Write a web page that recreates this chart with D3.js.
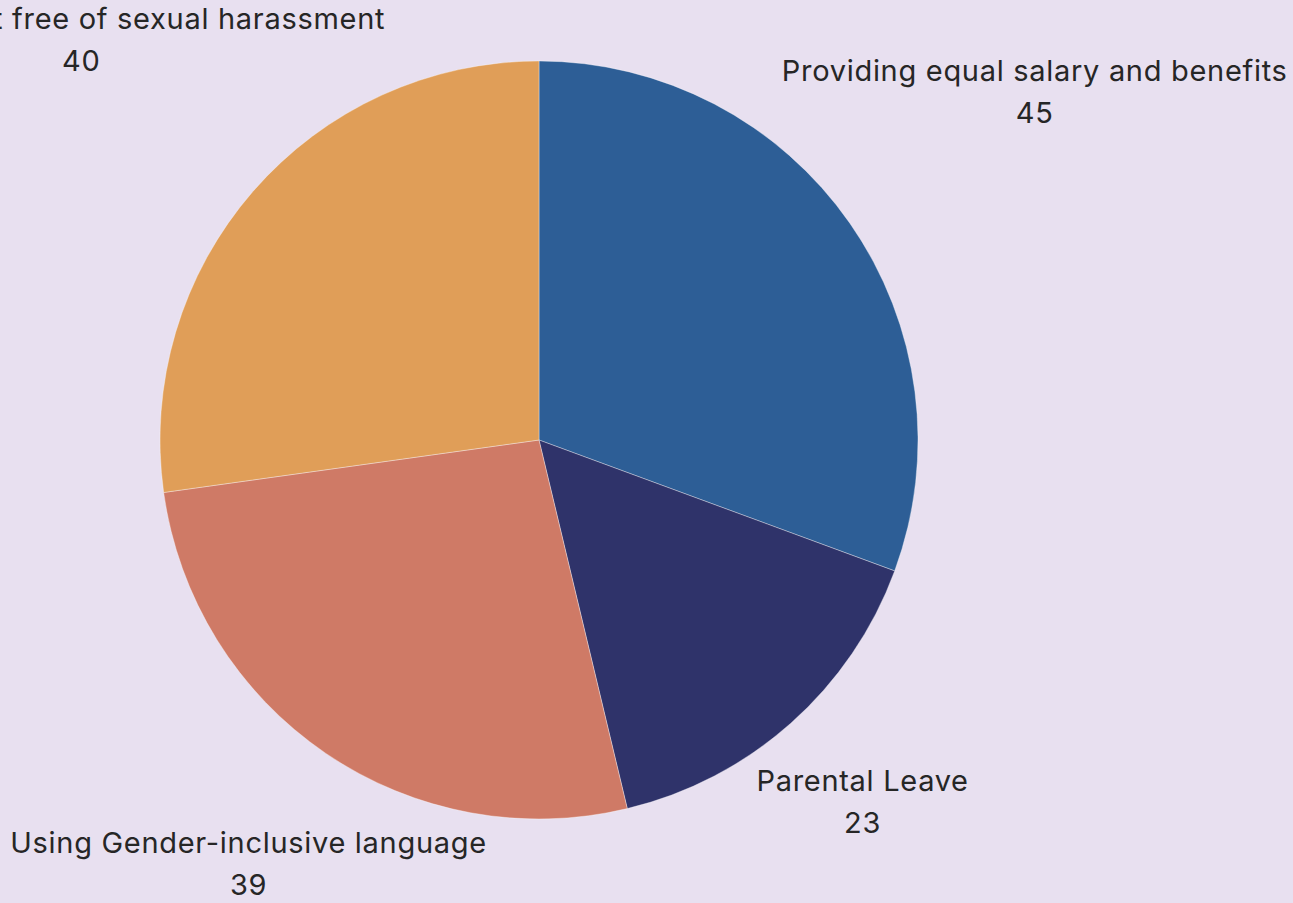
<!DOCTYPE html>
<html>
<head>
<meta charset="utf-8">
<script src="https://cdn.jsdelivr.net/npm/d3@7"></script>
<style>
  html, body { margin: 0; padding: 0; background: #e8e0f0; overflow: hidden; }
  svg { display: block; }
</style>
</head>
<body>
<svg id="chart" width="1293" height="903"></svg>
<script>
// Survey answers, clockwise from 12 o'clock
const categories = [
  "Providing equal salary and benefits",
  "Parental Leave",
  "Using Gender-inclusive language",
  "An environment free of sexual harassment"
];
const values = [45, 23, 39, 40];
const colors = ["#2d5e96", "#2f336a", "#cf7a66", "#e09e58"];

const width = 1293, height = 903;
const cx = 539, cy = 440, radius = 379;
const labelGap = 15;      // distance between pie edge and nearest label corner
const fontSize = 29;
const letterSpacing = 0.7;
const lineGap = 42;
const fontFamily = "Inter, 'Open Sans', sans-serif";

const svg = d3.select("#chart");
const g = svg.append("g").attr("transform", `translate(${cx},${cy})`);

const data = categories.map((c, i) => ({ name: c, value: values[i], color: colors[i] }));

const pie = d3.pie().value(d => d.value).sort(null);
const arc = d3.arc().innerRadius(0).outerRadius(radius);
const arcs = pie(data);

g.selectAll("path.slice")
  .data(arcs)
  .join("path")
  .attr("class", "slice")
  .attr("d", arc)
  .attr("fill", d => d.data.color)
  .attr("stroke", "rgba(255,255,255,0.35)")
  .attr("stroke-width", 1);

// Labels: two centred lines, pushed out along the slice's mid angle until
// the label box's nearest corner clears the pie by labelGap.
const labels = g.selectAll("g.label")
  .data(arcs)
  .join("g")
  .attr("class", "label");

labels.append("text")
  .attr("class", "name")
  .attr("text-anchor", "middle")
  .attr("font-family", fontFamily)
  .attr("font-size", fontSize)
  .attr("letter-spacing", letterSpacing)
  .attr("fill", "#262626")
  .attr("y", -lineGap / 2 + 8)
  .text(d => d.data.name);

labels.append("text")
  .attr("class", "value")
  .attr("text-anchor", "middle")
  .attr("font-family", fontFamily)
  .attr("font-size", fontSize)
  .attr("letter-spacing", letterSpacing)
  .attr("fill", "#262626")
  .attr("y", lineGap / 2 + 8)
  .text(d => d.data.value);

labels.each(function(d) {
  const node = d3.select(this);
  const w = Math.max(
    node.select("text.name").node().getComputedTextLength(),
    node.select("text.value").node().getComputedTextLength()
  );
  const h = lineGap + fontSize;
  const a = (d.startAngle + d.endAngle) / 2;
  const ux = Math.sin(a), uy = -Math.cos(a);
  const nearest = r => {
    const bx = ux * r, by = uy * r;
    const x0 = bx - w / 2, x1 = bx + w / 2, y0 = by - h / 2, y1 = by + h / 2;
    // closest corner of the box to the centre
    const px = Math.abs(x0) < Math.abs(x1) ? x0 : x1;
    const py = Math.abs(y0) < Math.abs(y1) ? y0 : y1;
    return Math.hypot(px, py);
  };
  let lo = radius, hi = radius + 1000;
  for (let k = 0; k < 60; k++) {
    const mid = (lo + hi) / 2;
    if (nearest(mid) < radius + labelGap) lo = mid; else hi = mid;
  }
  node.attr("transform", `translate(${ux * hi},${uy * hi})`);
});
</script>
</body>
</html>
